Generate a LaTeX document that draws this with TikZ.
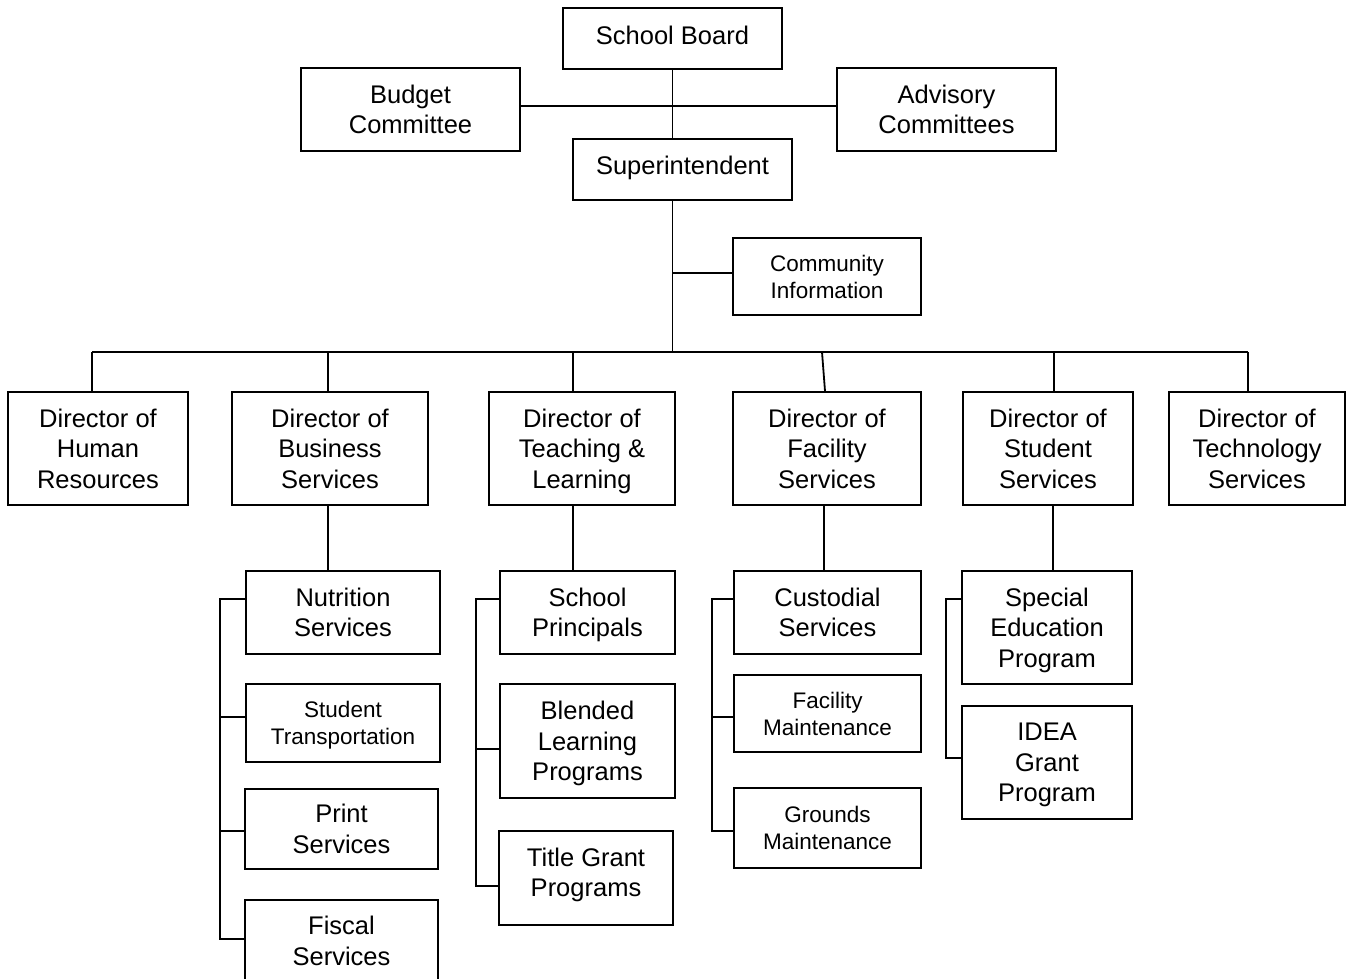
\documentclass[tikz,border=0pt]{standalone}
\usepackage{fontspec}
\setmainfont{Liberation Sans}
\newcommand\fbig{\fontsize{25.5pt}{30.5pt}\selectfont}
\newcommand\fsml{\fontsize{22.5pt}{27pt}\selectfont}
\tikzset{
  box/.style={draw, fill=white, line width=1.8pt, align=center, inner sep=0pt, font=\fbig},
  sbox/.style={box, font=\fsml},
  conn/.style={line width=1.8pt},
}
\begin{document}
\begin{tikzpicture}[x=1pt,y=-1pt]
\clip (0,0) rectangle (1349,979);
\fill[white] (0,0) rectangle (1349,979);
% top
\node[box, minimum width=219pt, minimum height=61pt, text depth=6pt] (sb) at (672.5,38.5) {School Board};
\node[box, minimum width=219pt, minimum height=83pt] (bud) at (410.5,109.5) {Budget\\Committee};
\node[box, minimum width=219pt, minimum height=83pt] (adv) at (946.5,109.5) {Advisory\\Committees};
\node[box, minimum width=219pt, minimum height=61pt, text depth=9pt] (sup) at (682.5,169.5) {Superintendent};
\node[sbox, minimum width=188pt, minimum height=77pt] (com) at (827,276.5) {Community\\Information};
% directors
\node[box, minimum width=180pt, minimum height=113pt] (hr) at (98,448.5) {Director of\\Human\\Resources};
\node[box, minimum width=196pt, minimum height=113pt] (biz) at (330,448.5) {Director of\\Business\\Services};
\node[box, minimum width=186pt, minimum height=113pt, text depth=0pt] (tl) at (582,448.5) {Director of\\Teaching \&\\Learning};
\node[box, minimum width=188pt, minimum height=113pt] (fac) at (827,448.5) {Director of\\Facility\\Services};
\node[box, minimum width=170pt, minimum height=113pt] (stu) at (1048,448.5) {Director of\\Student\\Services};
\node[box, minimum width=176pt, minimum height=113pt] (tech) at (1257,448.5) {Director of\\Technology\\Services};
% business
\node[box, minimum width=194pt, minimum height=83pt] (nut) at (343,612.5) {Nutrition\\Services};
\node[sbox, minimum width=194pt, minimum height=78pt, text depth=0pt] (st) at (343,723) {Student\\Transportation};
\node[box, minimum width=193pt, minimum height=80pt] (pr) at (341.5,829) {Print\\Services};
\node[box, minimum width=193pt, minimum height=82pt] (fis) at (341.5,941) {Fiscal\\Services};
% teaching
\node[box, minimum width=175pt, minimum height=83pt, text depth=-2pt] (sp) at (587.5,612.5) {School\\Principals};
\node[box, minimum width=175pt, minimum height=114pt, text depth=0pt] (bl) at (587.5,741) {Blended\\Learning\\Programs};
\node[box, minimum width=174pt, minimum height=94pt, text depth=11pt] (tg) at (586,878) {Title Grant\\Programs};
% facility
\node[box, minimum width=187pt, minimum height=83pt] (cus) at (827.5,612.5) {Custodial\\Services};
\node[sbox, minimum width=187pt, minimum height=77pt] (fm) at (827.5,713.5) {Facility\\Maintenance};
\node[sbox, minimum width=187pt, minimum height=80pt] (gm) at (827.5,828) {Grounds\\Maintenance};
% student
\node[box, minimum width=170pt, minimum height=113pt, text depth=-2pt] (se) at (1047,627.5) {Special\\Education\\Program};
\node[box, minimum width=170pt, minimum height=113pt, text depth=-2pt] (idea) at (1047,762.5) {IDEA\\Grant\\Program};
% coordinates
\coordinate (bus) at (672.5,352);
\coordinate (cj) at (672.5,273);
\coordinate (d1) at (92,352);
\coordinate (d2) at (328,352);
\coordinate (d3) at (573,352);
\coordinate (d4) at (822,352);
\coordinate (d5) at (1054,352);
\coordinate (d6) at (1248,352);
\coordinate (e2) at (328,0);
\coordinate (e3) at (573,0);
\coordinate (e4) at (824,0);
\coordinate (e5) at (1053,0);
\coordinate (j21) at (220,599);
\coordinate (j22) at (220,717);
\coordinate (j23) at (220,831);
\coordinate (j24) at (220,939);
\coordinate (j31) at (476,599);
\coordinate (j32) at (476,749);
\coordinate (j33) at (476,886);
\coordinate (j41) at (712,599);
\coordinate (j42) at (712,717);
\coordinate (j43) at (712,831);
\coordinate (j51) at (946,599);
\coordinate (j52) at (946,758);
% connectors
\draw[conn] (sb.south) -- (sb.south |- sup.north);
\draw[conn] ([yshift=3.5pt]bud.east) -- ([yshift=3.5pt]adv.west);
\draw[conn] (sb.south |- sup.south) -- (bus);
\draw[conn] (cj) -- (cj -| com.west);
\draw[conn] (d1) -- (d6);
\draw[conn] (d1) -- (d1 |- hr.north);
\draw[conn] (d2) -- (d2 |- biz.north);
\draw[conn] (d3) -- (d3 |- tl.north);
\draw[conn] (d4) -- ([xshift=-2pt]fac.north);
\draw[conn] (d5) -- (d5 |- stu.north);
\draw[conn] (d6) -- (d6 |- tech.north);
\draw[conn] (e2 |- biz.south) -- (e2 |- nut.north);
\draw[conn] (e3 |- tl.south) -- (e3 |- sp.north);
\draw[conn] (e4 |- fac.south) -- (e4 |- cus.north);
\draw[conn] (e5 |- stu.south) -- (e5 |- se.north);
\draw[conn] (j21 -| nut.west) -- (j21) -- (j24) -- (j24 -| fis.west);
\draw[conn] (j22) -- (j22 -| st.west);
\draw[conn] (j23) -- (j23 -| pr.west);
\draw[conn] (j31 -| sp.west) -- (j31) -- (j33) -- (j33 -| tg.west);
\draw[conn] (j32) -- (j32 -| bl.west);
\draw[conn] (j41 -| cus.west) -- (j41) -- (j43) -- (j43 -| gm.west);
\draw[conn] (j42) -- (j42 -| fm.west);
\draw[conn] (j51 -| se.west) -- (j51) -- (j52) -- (j52 -| idea.west);
\end{tikzpicture}
\end{document}
